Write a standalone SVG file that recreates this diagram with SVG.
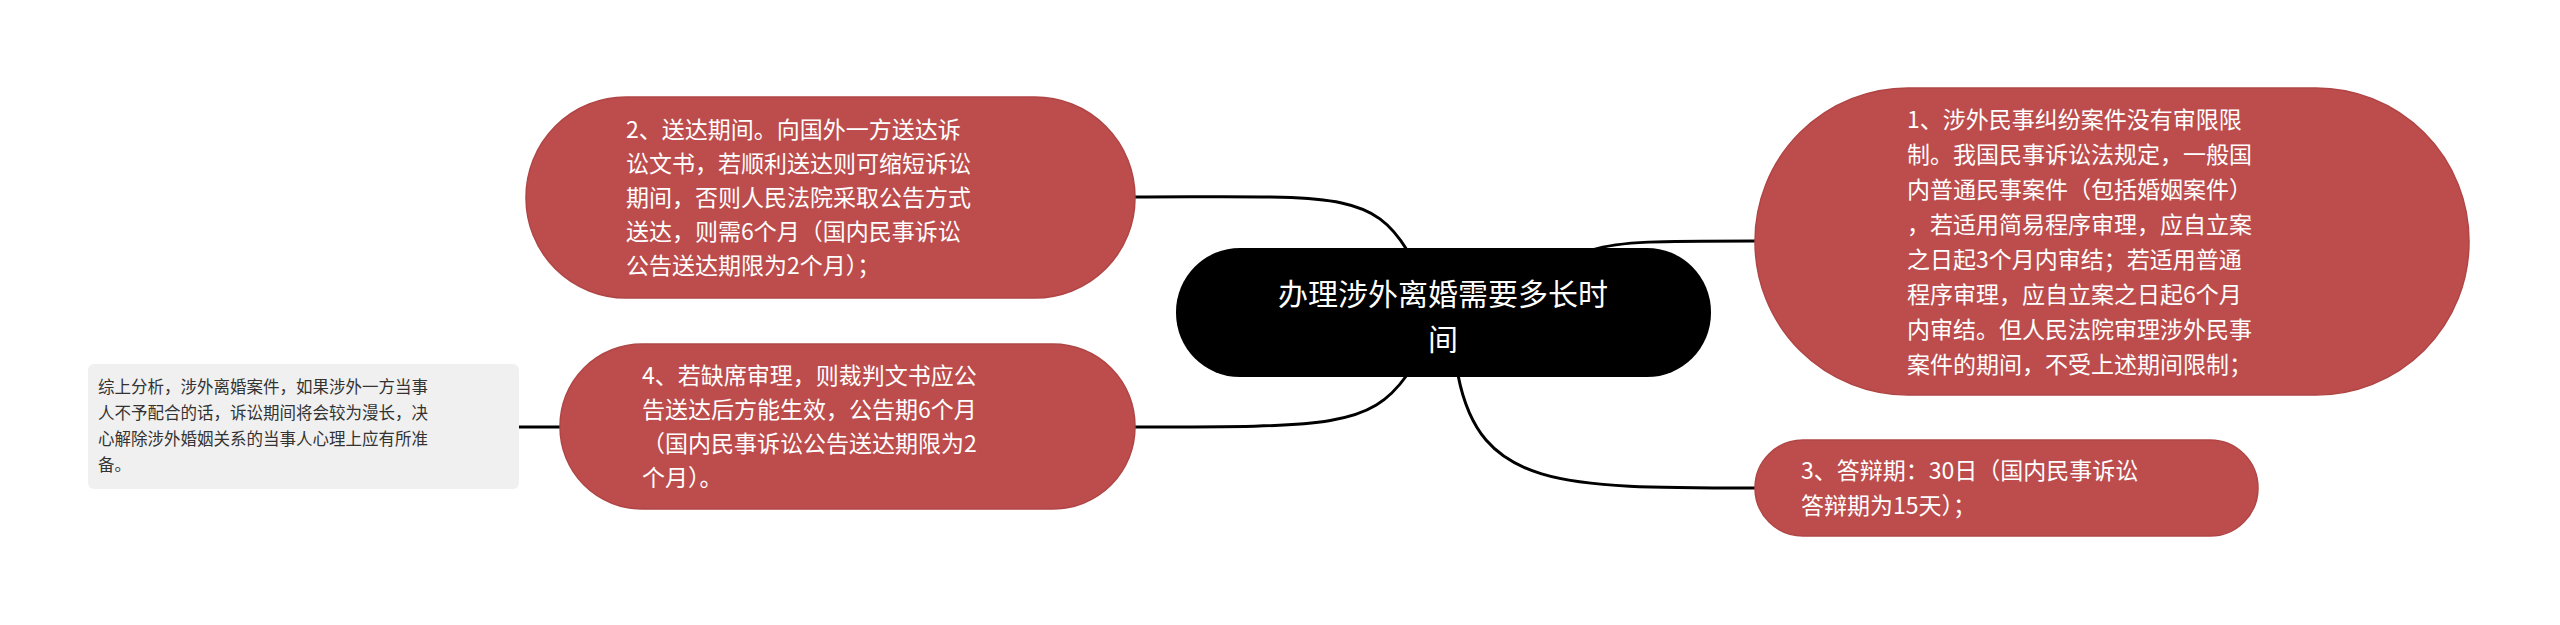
<svg xmlns="http://www.w3.org/2000/svg" width="2560" height="625" viewBox="0 0 2560 625">
<style>
.n{fill:#bd4d4d;stroke:#b04545;stroke-width:1.5}
.t{font-family:"Noto Sans CJK SC","Noto Sans",sans-serif;font-size:23px;fill:#fff}
.c{font-family:"Noto Sans CJK SC","Noto Sans",sans-serif;font-size:30px;fill:#fff;text-anchor:middle}
.s{font-family:"Noto Sans CJK SC","Noto Sans",sans-serif;font-size:16.5px;fill:#333}
.e{fill:none;stroke:#000;stroke-width:3}
</style>
<rect width="2560" height="625" fill="#fff"/>
<g id="connectors">
<path class="e" d="M1407,250 C1370,190 1330,197 1135,197"/>
<path class="e" d="M1407,375 C1370,427 1330,427 1135,427"/>
<path class="e" d="M1592,250 C1620,241 1660,241 1755,241"/>
<path class="e" d="M1458,375 C1480,488 1560,488 1755,488"/>
<path class="e" d="M519,427 L560,427"/>
</g>
<g id="center">
<rect x="1176" y="248" width="535" height="129" rx="64" fill="#000"/>
<text class="c" x="1443" y="305">办理涉外离婚需要多长时</text>
<text class="c" x="1443" y="350">间</text>
</g>
<g id="node2">
<rect class="n" x="526" y="97" width="609" height="201" rx="100"/>
<text class="t"><tspan x="626" y="138">2、送达期间。向国外一方送达诉</tspan><tspan x="626" y="172">讼文书，若顺利送达则可缩短诉讼</tspan><tspan x="626" y="206">期间，否则人民法院采取公告方式</tspan><tspan x="626" y="240">送达，则需6个月（国内民事诉讼</tspan><tspan x="626" y="274">公告送达期限为2个月）；</tspan></text>
</g>
<g id="node4">
<rect class="n" x="560" y="344" width="575" height="165" rx="82"/>
<text class="t"><tspan x="642" y="384">4、若缺席审理，则裁判文书应公</tspan><tspan x="642" y="418">告送达后方能生效，公告期6个月</tspan><tspan x="642" y="452">（国内民事诉讼公告送达期限为2</tspan><tspan x="642" y="486">个月）。</tspan></text>
</g>
<g id="node1">
<rect class="n" x="1755" y="88" width="714" height="307" rx="153"/>
<text class="t"><tspan x="1907" y="128">1、涉外民事纠纷案件没有审限限</tspan><tspan x="1907" y="163">制。我国民事诉讼法规定，一般国</tspan><tspan x="1907" y="198">内普通民事案件（包括婚姻案件）</tspan><tspan x="1907" y="233">，若适用简易程序审理，应自立案</tspan><tspan x="1907" y="268">之日起3个月内审结；若适用普通</tspan><tspan x="1907" y="303">程序审理，应自立案之日起6个月</tspan><tspan x="1907" y="338">内审结。但人民法院审理涉外民事</tspan><tspan x="1907" y="373">案件的期间，不受上述期间限制；</tspan></text>
</g>
<g id="node3">
<rect class="n" x="1755" y="440" width="503" height="96" rx="48"/>
<text class="t"><tspan x="1801" y="479">3、答辩期：30日（国内民事诉讼</tspan><tspan x="1801" y="514">答辩期为15天）；</tspan></text>
</g>
<g id="note">
<rect x="88" y="364" width="431" height="125" rx="6" fill="#f0f0f0"/>
<text class="s"><tspan x="98" y="393">综上分析，涉外离婚案件，如果涉外一方当事</tspan><tspan x="98" y="419">人不予配合的话，诉讼期间将会较为漫长，决</tspan><tspan x="98" y="445">心解除涉外婚姻关系的当事人心理上应有所准</tspan><tspan x="98" y="471">备。</tspan></text>
</g>
</svg>
